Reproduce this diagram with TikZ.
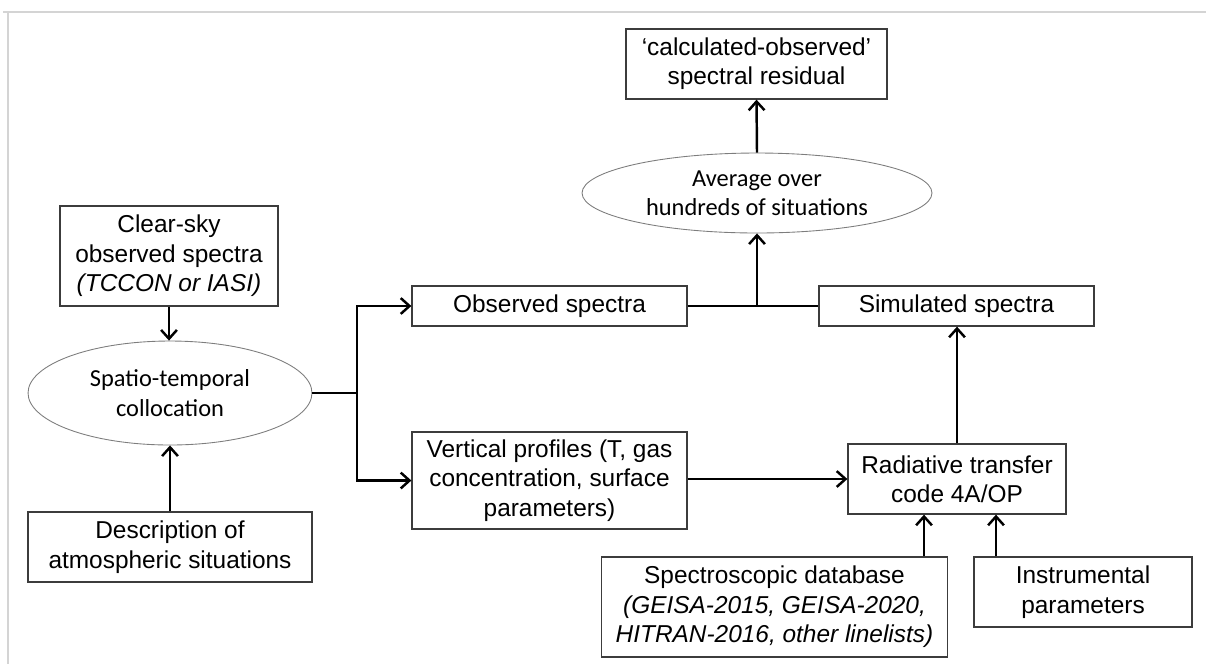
\documentclass[tikz,border=0pt]{standalone}
\usepackage{fontspec}
\setmainfont{Liberation Sans}
\newfontfamily\ovalfont{Carlito}
\usetikzlibrary{arrows.meta,shapes.geometric}

\definecolor{boxline}{RGB}{60,60,60}
\definecolor{ovalline}{RGB}{125,125,125}
\definecolor{pagerule}{RGB}{212,212,212}

\tikzset{
  box/.style={draw=boxline, line width=0.75pt, inner sep=0pt, align=center,
    font=\fontsize{13.9}{16.7}\selectfont},
  oval/.style={ellipse, draw=ovalline, line width=0.5pt, inner sep=0pt, align=center,
    font=\ovalfont\fontsize{13.9}{16.7}\selectfont},
  arr/.style={line width=1.4pt, -{Straight Barb[length=5pt,width=9pt]}},
  link/.style={line width=1.4pt},
}

\begin{document}
\begin{tikzpicture}[x=0.02cm, y=-0.02cm]
	\useasboundingbox (0,0) rectangle (1206,664);
	% page edge
	\draw[pagerule, line width=0.8pt] (3,12) -- (1206,12);
	\draw[pagerule, line width=0.8pt] (8,12) -- (8,664);

	% inputs on the left
	\node[box, minimum width=4.36cm, minimum height=2cm] (clear) at (169,256)
		{Clear-sky\\observed spectra\\\textit{(TCCON or IASI)}};
	\node[oval, minimum width=5.68cm, minimum height=2.08cm] (coloc) at (170,393)
		{Spatio-temporal\\collocation};
	\node[box, minimum width=5.68cm, minimum height=1.4cm] (atmos) at (170,547)
		{Description of\\atmospheric situations};

	% middle column
	\node[box, minimum width=5.5cm, minimum height=0.8cm] (obs) at (549.5,306)
		{Observed spectra};
	\node[box, minimum width=5.5cm, minimum height=1.94cm] (profiles) at (549.5,480.5)
		{Vertical profiles (T, gas\\concentration, surface\\parameters)};

	% right side
	\node[box, minimum width=5.5cm, minimum height=0.8cm] (sim) at (956.5,306)
		{Simulated spectra};
	\node[box, minimum width=4.36cm, minimum height=1.4cm] (rtm) at (957,479)
		{Radiative transfer\\code 4A/OP};
	\node[box, minimum width=6.92cm, minimum height=2cm] (spectro) at (774.5,607)
		{Spectroscopic database\\\textit{(GEISA-2015, GEISA-2020,}\\\textit{HITRAN-2016, other linelists)}};
	\node[box, minimum width=4.36cm, minimum height=1.4cm] (instr) at (1083,592)
		{Instrumental\\parameters};

	% top
	\node[oval, minimum width=7cm, minimum height=1.6cm] (avg) at (757,193)
		{Average over\\hundreds of situations};
	\node[box, minimum width=5.22cm, minimum height=1.4cm] (resid) at (756.5,64)
		{`calculated-observed'\\spectral residual};

	% connectors
	\coordinate (split) at (357,393);
	\coordinate (merge) at (757,306);
	\draw[arr] (clear.south) -- (clear.south |- coloc.north);
	\draw[arr] (atmos.north) -- (atmos.north |- coloc.south);
	\draw[link] (coloc.east) -- (split);
	\draw[arr] (split) |- (obs.west);
	\draw[arr] (split) |- (profiles.west);
	\draw[link] (obs.east) -- (sim.west);
	\draw[arr] (merge) -- (avg.south);
	\draw[arr] (avg.north) -- (resid.south);
	\draw[arr] (profiles.east |- rtm.west) -- (rtm.west);
	\draw[arr] (rtm.north) -- (rtm.north |- sim.south);
	\draw[arr] ([xshift=-0.66cm]rtm.south |- spectro.north) -- ([xshift=-0.66cm]rtm.south);
	\draw[arr] ([xshift=0.78cm]rtm.south |- instr.north) -- ([xshift=0.78cm]rtm.south);
\end{tikzpicture}
\end{document}
